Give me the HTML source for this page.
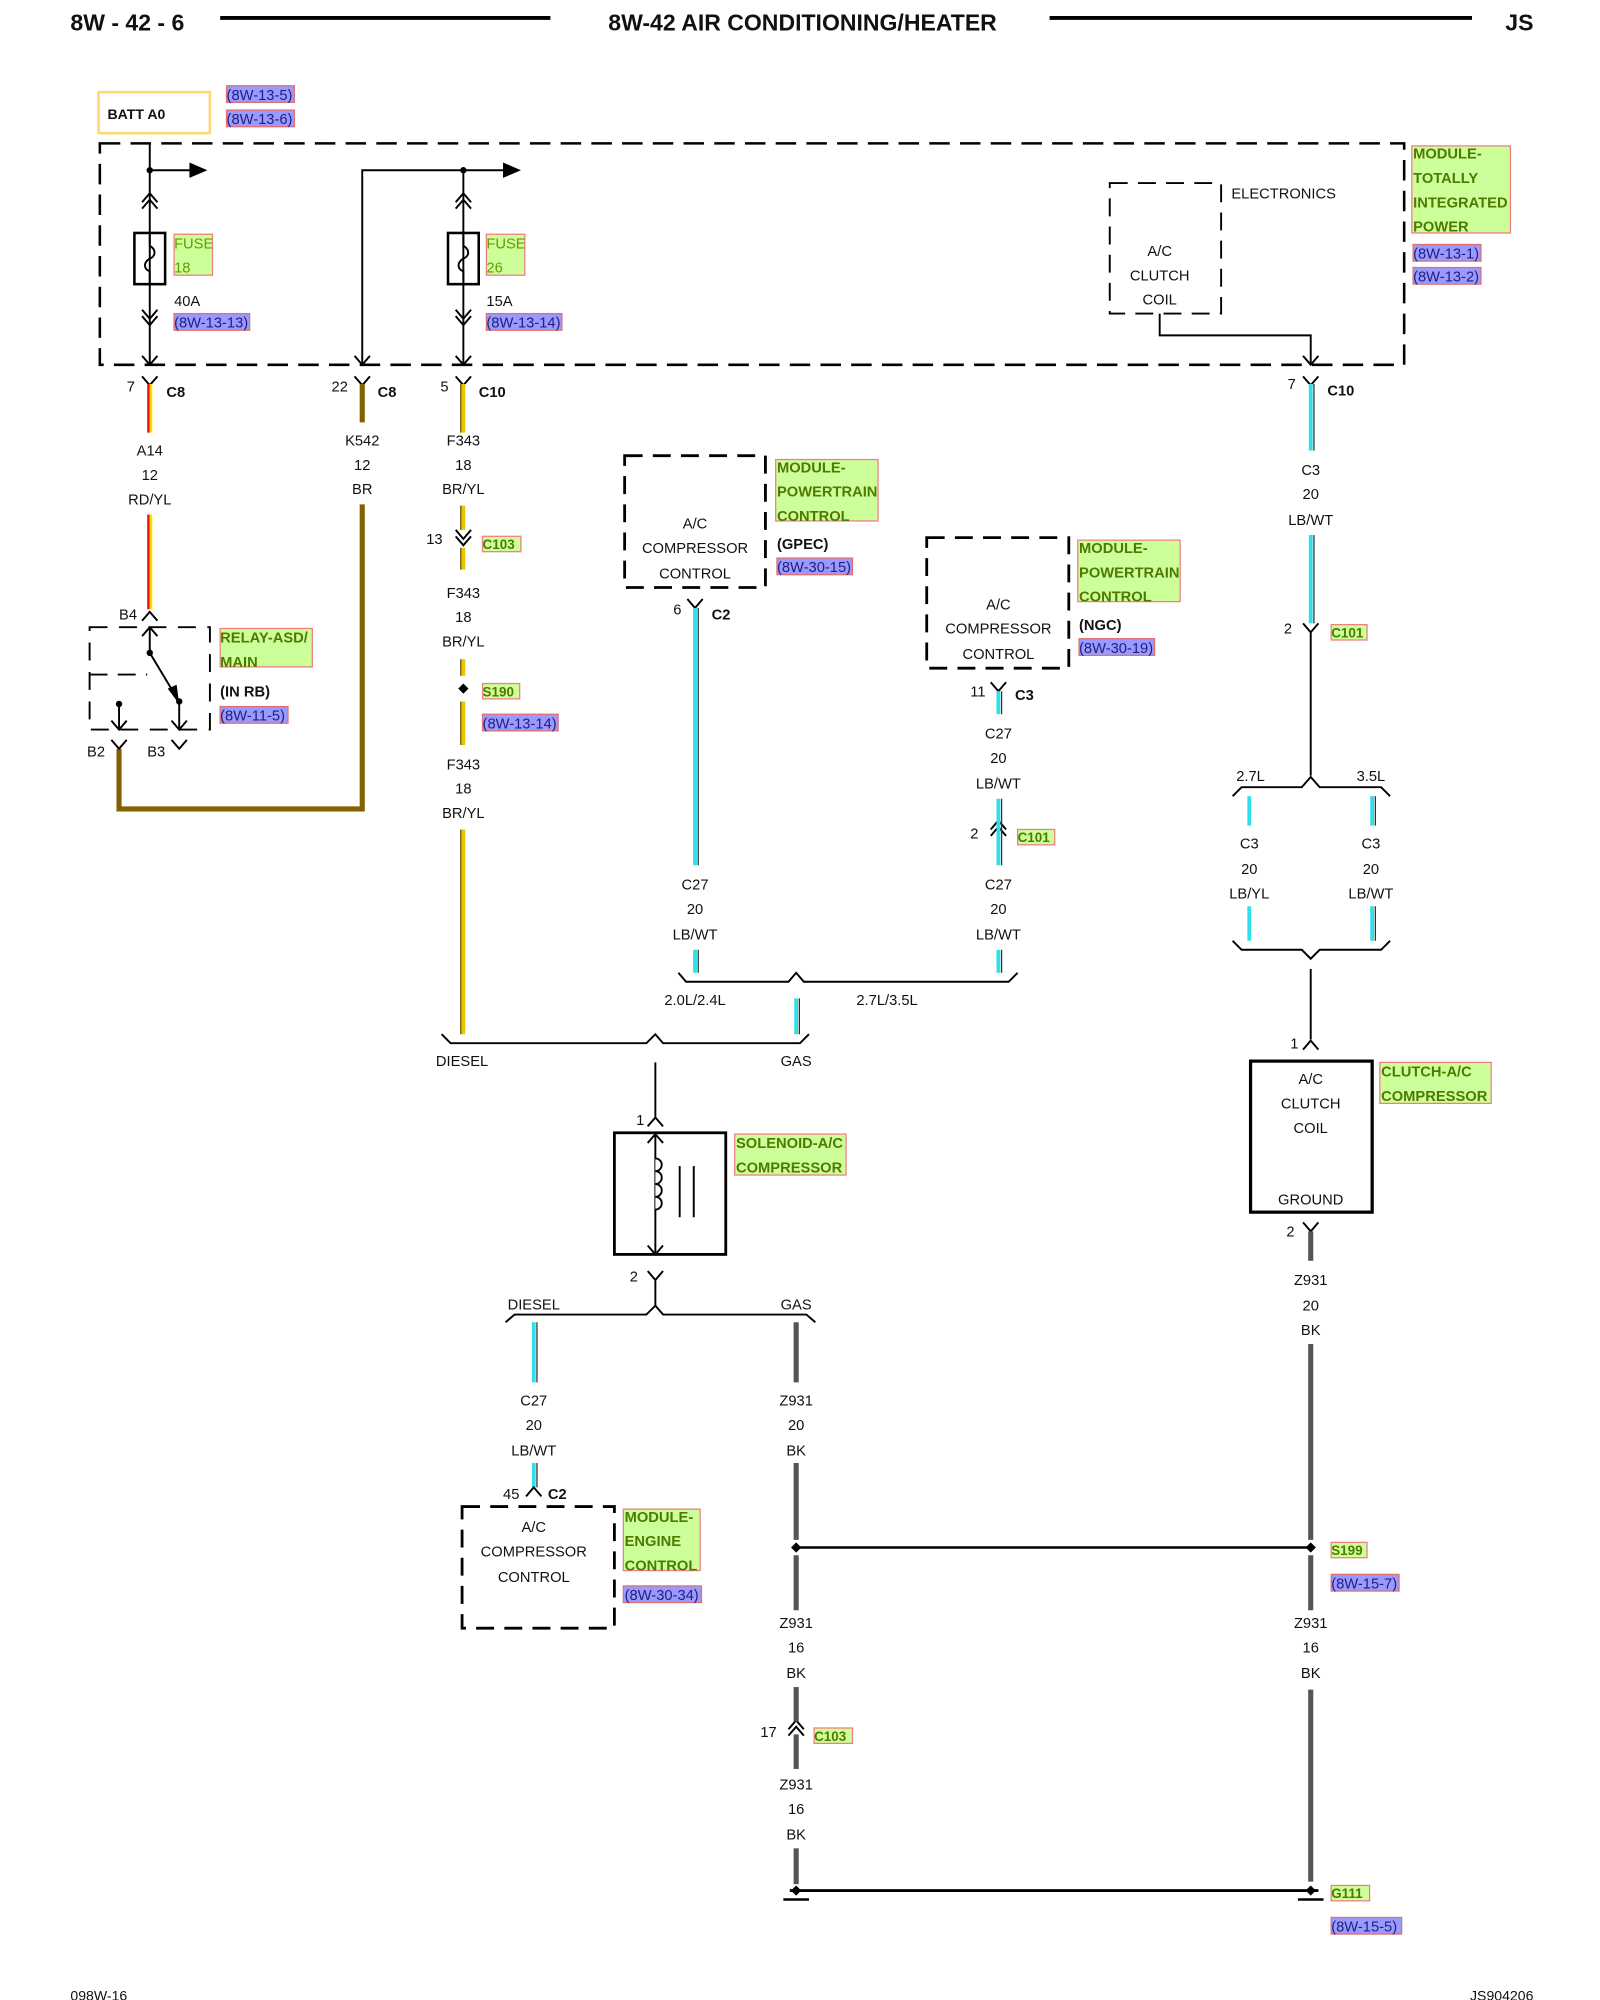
<!DOCTYPE html>
<html><head><meta charset="utf-8"><style>
html,body{margin:0;padding:0;background:#fff}
svg{display:block}
text{font-family:"Liberation Sans",sans-serif;font-size:11.5px;fill:#111}
.c{text-anchor:middle}
.b{font-weight:bold}
.g{font-weight:bold;fill:#4f7a00;font-size:11.5px}
.r{fill:#202080;font-size:11.5px}
</style></head><body>
<svg width="1600" height="2000" viewBox="0 0 1250 1562.5" xmlns="http://www.w3.org/2000/svg">
<!-- header -->
<text x="55" y="24" class="b" style="font-size:18px">8W - 42 - 6</text>
<line x1="172" y1="14" x2="430" y2="14" stroke="#000" stroke-width="3"/>
<text x="627" y="24" class="b c" style="font-size:18px">8W-42 AIR CONDITIONING/HEATER</text>
<line x1="820" y1="14" x2="1150" y2="14" stroke="#000" stroke-width="3"/>
<text x="1176" y="24" class="b" style="font-size:18px">JS</text>
<text x="55" y="1563" style="font-size:11px">098W-16</text>
<text x="1198" y="1563" style="font-size:11px;text-anchor:end">JS904206</text>

<!-- BATT -->
<rect x="77" y="72" width="87" height="32" fill="none" stroke="#ffd870" stroke-width="2"/>
<text x="84" y="93" class="b" style="font-size:11px">BATT A0</text>
<rect x="177" y="67" width="53" height="13" fill="#9999ff" stroke="#e07070"/><text x="177" y="78" class="r">(8W-13-5)</text>
<rect x="177" y="86" width="53" height="13" fill="#9999ff" stroke="#e07070"/><text x="177" y="97" class="r">(8W-13-6)</text>

<!-- dashed TIPM box -->
<rect x="78" y="112" width="1019" height="173" fill="none" stroke="#000" stroke-width="2" stroke-dasharray="16,8"/>

<g stroke="#000" stroke-width="1.5" fill="none">
<!-- col 117 -->
<line x1="117" y1="112" x2="117" y2="285"/>
<line x1="117" y1="133" x2="150" y2="133"/>
<polyline points="111,158 117,151 123,158"/><polyline points="111,163 117,156 123,163"/>
<polyline points="111,242 117,249 123,242"/><polyline points="111,247 117,254 123,247"/>
<polyline points="111,278 117,285 123,278"/>
<rect x="105" y="182" width="24" height="40" stroke-width="2"/>
<path d="M117,182 v10 c5,3 5,8 0,10 c-5,3 -5,8 0,10 v10"/>
<!-- col 283 / 362 -->
<polyline points="283,285 283,133 395,133"/>
<polyline points="277,278 283,285 289,278"/>
<line x1="362" y1="133" x2="362" y2="285"/>
<polyline points="356,158 362,151 368,158"/><polyline points="356,163 362,156 368,163"/>
<polyline points="356,242 362,249 368,242"/><polyline points="356,247 362,254 368,247"/>
<polyline points="356,278 362,285 368,278"/>
<rect x="350" y="182" width="24" height="40" stroke-width="2"/>
<path d="M362,182 v10 c5,3 5,8 0,10 c-5,3 -5,8 0,10 v10"/>
<!-- electronics -->
<rect x="867" y="143" width="87" height="102" stroke-dasharray="14,8"/>
<polyline points="906,245 906,262 1024,262 1024,285"/>
<polyline points="1018,278 1024,285 1030,278"/>
<!-- Y connectors below -->
<polyline points="111,294 117,301 123,294"/>
<polyline points="277,294 283,301 289,294"/>
<polyline points="356,294 362,301 368,294"/>
<polyline points="1018,294 1024,301 1030,294"/>
</g>
<circle cx="117" cy="133" r="2.5"/><circle cx="362" cy="133" r="2.5"/>
<polygon points="148,127 162,133 148,139"/><polygon points="393,127 407,133 393,139"/>

<rect x="136" y="183" width="30" height="32" fill="#ccff99" stroke="#f08080"/>
<text x="136" y="194" style="fill:#6a9a00">FUSE</text><text x="136" y="213" style="fill:#6a9a00">18</text>
<text x="136" y="239">40A</text>
<rect x="136" y="245" width="59" height="13" fill="#9999ff" stroke="#e07070"/><text x="136" y="256" class="r">(8W-13-13)</text>
<rect x="380" y="183" width="30" height="32" fill="#ccff99" stroke="#f08080"/>
<text x="380" y="194" style="fill:#6a9a00">FUSE</text><text x="380" y="213" style="fill:#6a9a00">26</text>
<text x="380" y="239">15A</text>
<rect x="380" y="245" width="59" height="13" fill="#9999ff" stroke="#e07070"/><text x="380" y="256" class="r">(8W-13-14)</text>
<text x="962" y="155">ELECTRONICS</text>
<text x="906" y="200" class="c">A/C</text><text x="906" y="219" class="c">CLUTCH</text><text x="906" y="238" class="c">COIL</text>
<rect x="1103" y="114" width="77" height="68" fill="#ccff99" stroke="#f08080"/>
<text x="1104" y="124" class="g">MODULE-</text><text x="1104" y="143" class="g">TOTALLY</text><text x="1104" y="162" class="g">INTEGRATED</text><text x="1104" y="181" class="g">POWER</text>
<rect x="1104" y="191" width="53" height="13" fill="#9999ff" stroke="#e07070"/><text x="1104" y="202" class="r">(8W-13-1)</text>
<rect x="1104" y="209" width="53" height="13" fill="#9999ff" stroke="#e07070"/><text x="1104" y="220" class="r">(8W-13-2)</text>

<text x="99" y="306">7</text><text x="130" y="310" class="b">C8</text>
<text x="259" y="306">22</text><text x="295" y="310" class="b">C8</text>
<text x="344" y="306">5</text><text x="374" y="310" class="b">C10</text>
<text x="1006" y="304">7</text><text x="1037" y="309" class="b">C10</text>

<!-- RD/YL wire 117 -->
<g stroke-width="2">
<line x1="116" y1="300" x2="116" y2="338" stroke="#ee1111"/><line x1="118" y1="300" x2="118" y2="338" stroke="#ffdd00"/>
<line x1="116" y1="402" x2="116" y2="476" stroke="#ee1111"/><line x1="118" y1="402" x2="118" y2="476" stroke="#ffdd00"/>
</g>
<text x="117" y="356" class="c">A14</text><text x="117" y="375" class="c">12</text><text x="117" y="394" class="c">RD/YL</text>

<!-- BR 283 -->
<g stroke="#806000" stroke-width="4" fill="none">
<line x1="283" y1="300" x2="283" y2="330"/>
<polyline points="283,394 283,632 93,632 93,585"/>
</g>
<text x="283" y="348" class="c">K542</text><text x="283" y="367" class="c">12</text><text x="283" y="386" class="c">BR</text>

<!-- relay -->
<g stroke="#000" stroke-width="1.5" fill="none">
<polyline points="111,485 117,478 123,485"/>
<rect x="70" y="490" width="94" height="80" stroke-dasharray="14,9"/>
<line x1="70" y1="527" x2="115" y2="527" stroke-dasharray="14,8"/>
<line x1="117" y1="490" x2="117" y2="510"/>
<polyline points="111,497 117,490 123,497"/>
<line x1="117" y1="510" x2="138" y2="545"/>
<line x1="140" y1="548" x2="140" y2="570"/><polyline points="134,563 140,570 146,563"/>
<line x1="93" y1="550" x2="93" y2="570"/><polyline points="87,563 93,570 99,563"/>
<polyline points="87,578 93,585 99,578"/>
<polyline points="134,578 140,585 146,578"/>
</g>
<polygon points="131,538 140,550 138,535" fill="#000"/>
<circle cx="117" cy="510" r="2.5"/><circle cx="140" cy="548" r="2.5"/><circle cx="93" cy="550" r="2.5"/>
<text x="93" y="484">B4</text><text x="68" y="591">B2</text><text x="115" y="591">B3</text>
<rect x="172" y="491" width="72" height="30" fill="#ccff99" stroke="#f08080"/>
<text x="172" y="502" class="g">RELAY-ASD/</text><text x="172" y="521" class="g">MAIN</text>
<text x="172" y="544" class="b">(IN RB)</text>
<rect x="172" y="552" width="53" height="13" fill="#9999ff" stroke="#e07070"/><text x="172" y="563" class="r">(8W-11-5)</text>

<!-- BR/YL 362 -->
<g stroke="#e8c800" stroke-width="3">
<line x1="362" y1="300" x2="362" y2="338"/><line x1="362" y1="395" x2="362" y2="414"/>
<line x1="362" y1="428" x2="362" y2="445"/><line x1="362" y1="515" x2="362" y2="528"/>
<line x1="362" y1="548" x2="362" y2="582"/><line x1="362" y1="648" x2="362" y2="808"/>
</g>
<g stroke="#6a5000" stroke-width="1">
<line x1="360" y1="300" x2="360" y2="338"/><line x1="360" y1="395" x2="360" y2="414"/>
<line x1="360" y1="428" x2="360" y2="445"/><line x1="360" y1="515" x2="360" y2="528"/>
<line x1="360" y1="548" x2="360" y2="582"/><line x1="360" y1="648" x2="360" y2="808"/>
</g>
<text x="362" y="348" class="c">F343</text><text x="362" y="367" class="c">18</text><text x="362" y="386" class="c">BR/YL</text>
<g stroke="#000" stroke-width="1.5" fill="none"><polyline points="356,414 362,421 368,414"/><polyline points="356,419 362,426 368,419"/></g>
<text x="333" y="425">13</text>
<rect x="377" y="419" width="30" height="12" fill="#ccff99" stroke="#f08080"/><text x="377" y="429" class="g" style="font-size:10.5px">C103</text>
<text x="362" y="467" class="c">F343</text><text x="362" y="486" class="c">18</text><text x="362" y="505" class="c">BR/YL</text>
<polygon points="362,534 366,538 362,542 358,538"/>
<rect x="377" y="534" width="29" height="12" fill="#ccff99" stroke="#f08080"/><text x="377" y="544" class="g" style="font-size:10.5px">S190</text>
<rect x="377" y="558" width="59" height="13" fill="#9999ff" stroke="#e07070"/><text x="377" y="569" class="r">(8W-13-14)</text>
<text x="362" y="601" class="c">F343</text><text x="362" y="620" class="c">18</text><text x="362" y="639" class="c">BR/YL</text>

<!-- GPEC -->
<rect x="488" y="356" width="110" height="103" fill="none" stroke="#000" stroke-width="2.2" stroke-dasharray="14,8"/>
<text x="543" y="413" class="c">A/C</text><text x="543" y="432" class="c">COMPRESSOR</text><text x="543" y="452" class="c">CONTROL</text>
<rect x="606" y="359" width="80" height="48" fill="#ccff99" stroke="#f08080"/>
<text x="607" y="369" class="g">MODULE-</text><text x="607" y="388" class="g">POWERTRAIN</text><text x="607" y="407" class="g">CONTROL</text>
<text x="607" y="429" class="b">(GPEC)</text>
<rect x="607" y="436" width="59" height="13" fill="#9999ff" stroke="#e07070"/><text x="607" y="447" class="r">(8W-30-15)</text>
<polyline points="537,468 543,475 549,468" stroke="#000" stroke-width="1.5" fill="none"/>
<text x="526" y="480">6</text><text x="556" y="484" class="b">C2</text>

<!-- NGC -->
<rect x="724" y="420" width="111" height="102" fill="none" stroke="#000" stroke-width="2.2" stroke-dasharray="14,8"/>
<text x="780" y="476" class="c">A/C</text><text x="780" y="495" class="c">COMPRESSOR</text><text x="780" y="515" class="c">CONTROL</text>
<rect x="842" y="422" width="80" height="48" fill="#ccff99" stroke="#f08080"/>
<text x="843" y="432" class="g">MODULE-</text><text x="843" y="451" class="g">POWERTRAIN</text><text x="843" y="470" class="g">CONTROL</text>
<text x="843" y="492" class="b">(NGC)</text>
<rect x="843" y="499" width="59" height="13" fill="#9999ff" stroke="#e07070"/><text x="843" y="510" class="r">(8W-30-19)</text>
<polyline points="774,533 780,540 786,533" stroke="#000" stroke-width="1.5" fill="none"/>
<text x="758" y="544">11</text><text x="793" y="547" class="b">C3</text>
<g stroke="#000" stroke-width="1.5" fill="none"><polyline points="774,648 780,641 786,648"/><polyline points="774,653 780,646 786,653"/></g>
<text x="758" y="655">2</text>
<rect x="795" y="648" width="29" height="12" fill="#ccff99" stroke="#f08080"/><text x="795" y="658" class="g" style="font-size:10.5px">C101</text>

<!-- cyan wires -->
<g stroke="#30e0e8" stroke-width="3">
<line x1="543" y1="475" x2="543" y2="676"/><line x1="543" y1="742" x2="543" y2="760"/>
<line x1="780" y1="540" x2="780" y2="558"/><line x1="780" y1="624" x2="780" y2="676"/>
<line x1="780" y1="742" x2="780" y2="760"/>
<line x1="622" y1="780" x2="622" y2="808"/>
<line x1="1024" y1="300" x2="1024" y2="352"/><line x1="1024" y1="418" x2="1024" y2="487"/>
<line x1="976" y1="622" x2="976" y2="645"/><line x1="976" y1="708" x2="976" y2="735"/>
<line x1="1072" y1="622" x2="1072" y2="645"/><line x1="1072" y1="708" x2="1072" y2="735"/>
<line x1="417" y1="1033" x2="417" y2="1080"/><line x1="417" y1="1143" x2="417" y2="1162"/>
</g>
<g stroke="#333" stroke-width="1">
<line x1="545.5" y1="475" x2="545.5" y2="676"/><line x1="545.5" y1="742" x2="545.5" y2="760"/>
<line x1="782.5" y1="540" x2="782.5" y2="558"/><line x1="782.5" y1="624" x2="782.5" y2="676"/>
<line x1="782.5" y1="742" x2="782.5" y2="760"/>
<line x1="624.5" y1="780" x2="624.5" y2="808"/>
<line x1="1026.5" y1="300" x2="1026.5" y2="352"/><line x1="1026.5" y1="418" x2="1026.5" y2="487"/>
<line x1="1074.5" y1="622" x2="1074.5" y2="645"/><line x1="1074.5" y1="708" x2="1074.5" y2="735"/>
<line x1="419.5" y1="1033" x2="419.5" y2="1080"/><line x1="419.5" y1="1143" x2="419.5" y2="1162"/>
</g>
<text x="543" y="695" class="c">C27</text><text x="543" y="714" class="c">20</text><text x="543" y="734" class="c">LB/WT</text>
<text x="780" y="577" class="c">C27</text><text x="780" y="596" class="c">20</text><text x="780" y="616" class="c">LB/WT</text>
<text x="780" y="695" class="c">C27</text><text x="780" y="714" class="c">20</text><text x="780" y="734" class="c">LB/WT</text>

<!-- buses -->
<g stroke="#000" stroke-width="1.5" fill="none">
<polyline points="530,760 536,767 616,767 622,760 628,767 788,767 795,760"/>
<polyline points="345,808 352,815 505,815 512,808 518,815 625,815 632,808"/>
<line x1="512" y1="830" x2="512" y2="873"/>
<polyline points="506,880 512,873 518,880"/>
<rect x="480" y="885" width="87" height="95" stroke-width="2.2"/>
<line x1="512" y1="886" x2="512" y2="980"/>
<polyline points="506,893 512,886 518,893"/><polyline points="506,973 512,980 518,973"/>
<path d="M512,905 a5,5 0 0 1 0,10 a5,5 0 0 1 0,10 a5,5 0 0 1 0,10 a5,5 0 0 1 0,10" fill="#fff"/>
<line x1="531" y1="911" x2="531" y2="951"/><line x1="542" y1="911" x2="542" y2="951"/>
<polyline points="506,993 512,1000 518,993"/>
<line x1="512" y1="1000" x2="512" y2="1020"/>
<polyline points="395,1033 402,1027 505,1027 512,1020 518,1027 630,1027 637,1033"/>
<!-- right column -->
<polyline points="1018,487 1024,494 1030,487"/>
<line x1="1024" y1="494" x2="1024" y2="606"/>
<polyline points="963,622 970,615 1017,615 1024,607 1031,615 1079,615 1086,622"/>
<polyline points="963,735 970,742 1017,742 1024,749 1031,742 1079,742 1086,735"/>
<line x1="1024" y1="757" x2="1024" y2="812"/>
<polyline points="1018,820 1024,813 1030,820"/>
<rect x="977" y="829" width="95" height="118" stroke-width="2.5"/>
<polyline points="1018,955 1024,962 1030,955"/>
<polyline points="411,1169 417,1162 423,1169"/>
<rect x="361" y="1177" width="119" height="95" stroke-width="2.2" stroke-dasharray="14,8"/>
<line x1="622" y1="1209" x2="1024" y2="1209" stroke-width="2"/>
<polyline points="616,1351 622,1344 628,1351"/><polyline points="616,1356 622,1349 628,1356"/>
<line x1="617" y1="1477" x2="1030" y2="1477" stroke-width="2.2"/>
<line x1="612" y1="1484" x2="632" y2="1484" stroke-width="2"/>
<line x1="1014" y1="1484" x2="1034" y2="1484" stroke-width="2"/>
</g>
<text x="543" y="785" class="c">2.0L/2.4L</text><text x="693" y="785" class="c">2.7L/3.5L</text>
<text x="361" y="833" class="c">DIESEL</text><text x="622" y="833" class="c">GAS</text>
<text x="497" y="879">1</text>
<rect x="574" y="886" width="87" height="32" fill="#ccff99" stroke="#f08080"/>
<text x="575" y="897" class="g">SOLENOID-A/C</text><text x="575" y="916" class="g">COMPRESSOR</text>
<text x="492" y="1001">2</text>
<text x="417" y="1023" class="c">DIESEL</text><text x="622" y="1023" class="c">GAS</text>

<text x="1024" y="371" class="c">C3</text><text x="1024" y="390" class="c">20</text><text x="1024" y="410" class="c">LB/WT</text>
<text x="1003" y="495">2</text>
<rect x="1040" y="488" width="28" height="12" fill="#ccff99" stroke="#f08080"/><text x="1040" y="498" class="g" style="font-size:10.5px">C101</text>
<text x="977" y="610" class="c">2.7L</text><text x="1071" y="610" class="c">3.5L</text>
<text x="976" y="663" class="c">C3</text><text x="976" y="683" class="c">20</text><text x="976" y="702" class="c">LB/YL</text>
<text x="1071" y="663" class="c">C3</text><text x="1071" y="683" class="c">20</text><text x="1071" y="702" class="c">LB/WT</text>
<text x="1008" y="819">1</text>
<text x="1024" y="847" class="c">A/C</text><text x="1024" y="866" class="c">CLUTCH</text><text x="1024" y="885" class="c">COIL</text><text x="1024" y="941" class="c">GROUND</text>
<rect x="1078" y="830" width="87" height="32" fill="#ccff99" stroke="#f08080"/>
<text x="1079" y="841" class="g">CLUTCH-A/C</text><text x="1079" y="860" class="g">COMPRESSOR</text>
<text x="1005" y="966">2</text>

<!-- BK wires -->
<g stroke="#555" stroke-width="4">
<line x1="1024" y1="962" x2="1024" y2="985"/><line x1="1024" y1="1050" x2="1024" y2="1203"/>
<line x1="1024" y1="1215" x2="1024" y2="1258"/><line x1="1024" y1="1320" x2="1024" y2="1470"/>
<line x1="622" y1="1033" x2="622" y2="1080"/><line x1="622" y1="1143" x2="622" y2="1203"/>
<line x1="622" y1="1215" x2="622" y2="1258"/><line x1="622" y1="1318" x2="622" y2="1345"/>
<line x1="622" y1="1355" x2="622" y2="1382"/><line x1="622" y1="1444" x2="622" y2="1472"/>
</g>
<polygon points="1024,1205 1028,1209 1024,1213 1020,1209"/>
<polygon points="622,1205 626,1209 622,1213 618,1209"/>
<polygon points="1024,1473 1028,1477 1024,1481 1020,1477"/>
<polygon points="622,1473 626,1477 622,1481 618,1477"/>
<text x="1024" y="1004" class="c">Z931</text><text x="1024" y="1024" class="c">20</text><text x="1024" y="1043" class="c">BK</text>
<rect x="1040" y="1205" width="28" height="12" fill="#ccff99" stroke="#f08080"/><text x="1040" y="1215" class="g" style="font-size:10.5px">S199</text>
<rect x="1040" y="1230" width="53" height="13" fill="#9999ff" stroke="#e07070"/><text x="1040" y="1241" class="r">(8W-15-7)</text>
<text x="1024" y="1272" class="c">Z931</text><text x="1024" y="1291" class="c">16</text><text x="1024" y="1311" class="c">BK</text>
<rect x="1040" y="1473" width="30" height="12" fill="#ccff99" stroke="#f08080"/><text x="1040" y="1483" class="g" style="font-size:10.5px">G111</text>
<rect x="1040" y="1498" width="55" height="13" fill="#9999ff" stroke="#e07070"/><text x="1040" y="1509" class="r">(8W-15-5)</text>

<text x="622" y="1098" class="c">Z931</text><text x="622" y="1117" class="c">20</text><text x="622" y="1137" class="c">BK</text>
<text x="622" y="1272" class="c">Z931</text><text x="622" y="1291" class="c">16</text><text x="622" y="1311" class="c">BK</text>
<text x="594" y="1357">17</text>
<rect x="636" y="1350" width="30" height="12" fill="#ccff99" stroke="#f08080"/><text x="636" y="1360" class="g" style="font-size:10.5px">C103</text>
<text x="622" y="1398" class="c">Z931</text><text x="622" y="1417" class="c">16</text><text x="622" y="1437" class="c">BK</text>

<text x="417" y="1098" class="c">C27</text><text x="417" y="1117" class="c">20</text><text x="417" y="1137" class="c">LB/WT</text>
<text x="393" y="1171">45</text><text x="428" y="1171" class="b">C2</text>
<text x="417" y="1197" class="c">A/C</text><text x="417" y="1216" class="c">COMPRESSOR</text><text x="417" y="1236" class="c">CONTROL</text>
<rect x="487" y="1179" width="60" height="48" fill="#ccff99" stroke="#f08080"/>
<text x="488" y="1189" class="g">MODULE-</text><text x="488" y="1208" class="g">ENGINE</text><text x="488" y="1227" class="g">CONTROL</text>
<rect x="487" y="1239" width="61" height="13" fill="#9999ff" stroke="#e07070"/><text x="488" y="1250" class="r">(8W-30-34)</text>
</svg>
</body></html>
